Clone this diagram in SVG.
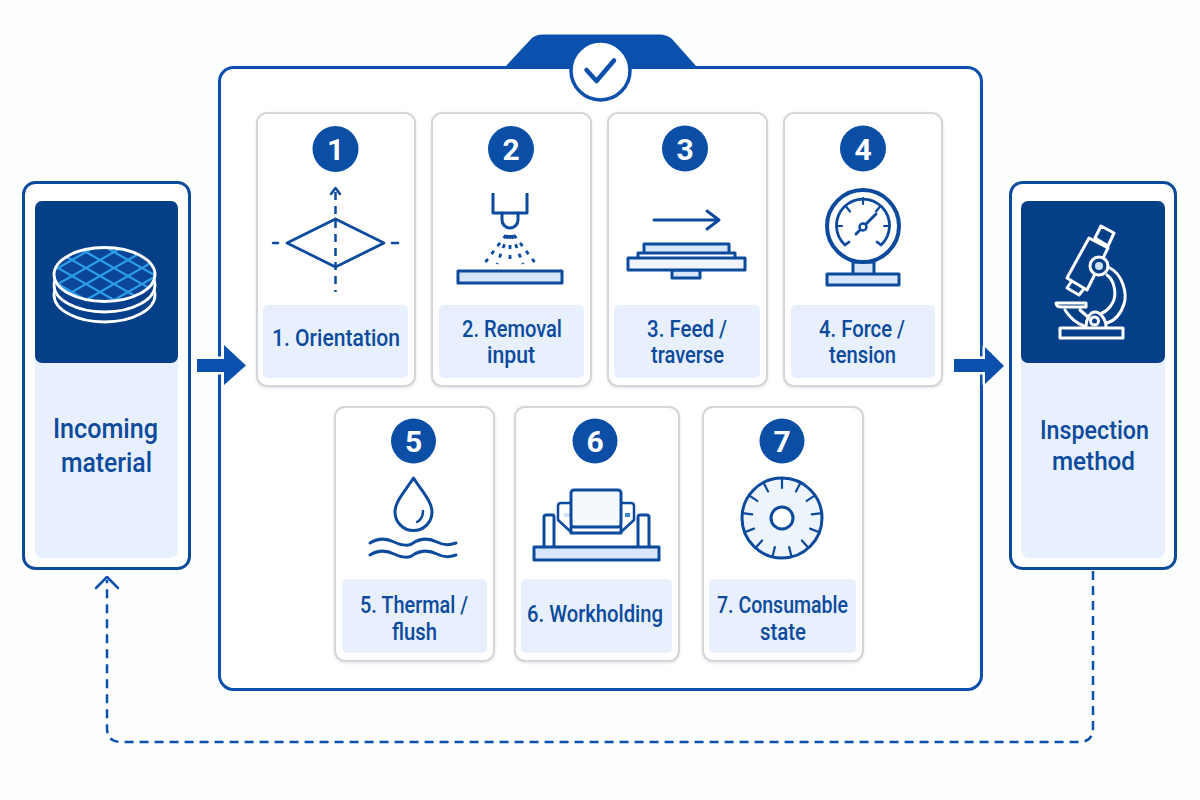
<svg xmlns="http://www.w3.org/2000/svg" width="1200" height="800" viewBox="0 0 1200 800">
<style>
.bg{fill:#fdfefe}
.card{fill:#fff;stroke:#d3d6da;stroke-width:2}
.lab{fill:#e7f0fc}
.badge{fill:#0a4ea6}
.num{font-family:"Roboto","Liberation Sans",sans-serif;font-weight:700;font-size:30px;fill:#fff;text-anchor:middle}
.t{font-family:"Roboto","Liberation Sans",sans-serif;font-weight:500;font-size:23.5px;fill:#0b4a9c}
.tb{font-family:"Roboto","Liberation Sans",sans-serif;font-weight:500;font-size:28px;fill:#0b4a9c}
.ic{fill:none;stroke:#0b4a9c;stroke-width:3;stroke-linecap:round;stroke-linejoin:round}
.if{fill:#d7e6f8;stroke:#0b4a9c;stroke-width:3;stroke-linejoin:round}
.w{fill:none;stroke:#fff;stroke-width:3;stroke-linecap:round;stroke-linejoin:round}
.arrow{fill:#0a50ac;stroke:#fdfefe;stroke-width:5;paint-order:stroke;stroke-linejoin:round}
.outer{fill:#fff;stroke:#0b4a9c;stroke-width:3}
</style>
<defs>
<pattern id="grid" patternUnits="userSpaceOnUse" x="2" y="268" width="28" height="16"><path d="M0 0L28 16M0 16L28 0" stroke="#2c9ee8" stroke-width="2.200" fill="none"/></pattern>
<filter id="sh" x="-5%" y="-5%" width="110%" height="110%"><feDropShadow dx="0" dy="1" stdDeviation="1.5" flood-color="#9aa4b0" flood-opacity=".3"/></filter>
</defs>
<rect class="bg" width="1200" height="800"/>

<g id="frame">
<rect x="219.500" y="67.500" width="762" height="622" rx="14" fill="#fff" stroke="#0a50ac" stroke-width="3"/>
<path d="M506 66L531 39Q535 34.500 543 34.500H659Q667 34.500 672 39L696 66Z" fill="#0a50ac"/>
<circle cx="600.500" cy="70.500" r="29.500" fill="#fff" stroke="#0a50ac" stroke-width="3.500"/>
<path d="M586.500 70L596.500 81L614 60.500" fill="none" stroke="#0a50ac" stroke-width="4.500" stroke-linecap="round" stroke-linejoin="round"/>
</g>

<g id="incoming">
<rect class="outer" x="23.500" y="182.500" width="166" height="386" rx="12"/>
<rect class="lab" x="35" y="350" width="143" height="208" rx="8"/>
<rect x="35" y="201" width="143" height="162" rx="7" fill="#053f88"/>
<ellipse cx="104.500" cy="295" rx="50.500" ry="27" fill="#063f8c" stroke="#fff" stroke-width="2.800"/>
<ellipse cx="104.500" cy="285" rx="50.500" ry="27" fill="#063f8c" stroke="#fff" stroke-width="2.800"/>
<ellipse cx="104.500" cy="274.500" rx="50.500" ry="27" fill="#0a4598"/>
<ellipse cx="104.500" cy="274.500" rx="50.500" ry="27" fill="url(#grid)" stroke="#fff" stroke-width="2.800"/>
<text class="tb" x="105.500" y="438" text-anchor="middle" textLength="105" lengthAdjust="spacingAndGlyphs">Incoming</text>
<text class="tb" x="106.500" y="472" text-anchor="middle" textLength="91" lengthAdjust="spacingAndGlyphs">material</text>
</g>

<g id="inspection">
<rect class="outer" x="1010.500" y="182.500" width="165" height="386" rx="12"/>
<rect class="lab" x="1021" y="350" width="144" height="208" rx="8"/>
<rect x="1021" y="201" width="144" height="162" rx="7" fill="#053f88"/>
<path class="w" d="M1101 226L1114 233L1108 246L1095 238ZM1089 238L1108 248L1087 290L1067 278ZM1071 282L1067 288L1079 295L1083 290"/>
<circle cx="1099" cy="266" r="9" fill="#053f88" stroke="#fff" stroke-width="3"/>
<circle cx="1099" cy="266" r="4" fill="#cfe0f5"/>
<path class="w" d="M1108 267C1124 274 1127 295 1124 304C1120 316 1114 321 1107 323M1107 275C1116 282 1116 296 1113 302C1110 308 1107 311 1102 313M1056 303H1086V307H1062Q1056 307 1056 303ZM1065 310C1070 318 1076 323 1084 326M1080 310L1088 317"/>
<path d="M1086 327C1086 319 1090 312 1095 312C1100 312 1106 319 1106 327" fill="#053f88" stroke="#fff" stroke-width="3" stroke-linecap="round"/>
<circle class="w" cx="1094.500" cy="321" r="4"/>
<rect class="w" x="1060" y="328" width="63" height="10"/>
<text class="tb" x="1094.500" y="439" text-anchor="middle" style="font-size:26px" textLength="109" lengthAdjust="spacingAndGlyphs">Inspection</text>
<text class="tb" x="1093.500" y="470" text-anchor="middle" style="font-size:26px" textLength="83" lengthAdjust="spacingAndGlyphs">method</text>
</g>

<g id="step1">
<rect class="card" x="257" y="113" width="158" height="273" rx="10" filter="url(#sh)"/>
<rect class="lab" x="263" y="305" width="145" height="73" rx="5"/>
<circle class="badge" cx="335.500" cy="149" r="23"/>
<text class="num" x="335.500" y="160">1</text>
<path class="ic" d="M287 243L335.500 219L384 243L335.500 267Z" style="stroke-width:2.800"/>
<path class="ic" style="stroke-linecap:butt;stroke-width:2.500" stroke-dasharray="8 6" d="M335.500 192V292"/>
<path class="ic" style="stroke-width:2.500" d="M331 194L335.500 188L340 194M273 243H278M392 243H398"/>
<text class="t" x="272" y="346" textLength="128" lengthAdjust="spacingAndGlyphs">1. Orientation</text>
</g>

<g id="step2">
<rect class="card" x="432" y="113" width="159" height="273" rx="10" filter="url(#sh)"/>
<rect class="lab" x="439" y="305" width="145" height="73" rx="5"/>
<circle class="badge" cx="511" cy="149" r="23"/>
<text class="num" x="511" y="160">2</text>
<path class="ic" style="stroke-linecap:butt" d="M493 193V213H527V193"/>
<path class="ic" d="M502 213V220A8 8 0 0 0 518 220V213"/>
<path class="ic" style="stroke-linecap:butt;stroke-width:2.800" stroke-dasharray="4 6" d="M506 235L484 264M508 235L497 264M510 235V264M512 235L523 264M514 235L536 264"/>
<rect class="if" x="458" y="271" width="104" height="12"/>
<text class="t" x="462" y="337" textLength="100" lengthAdjust="spacingAndGlyphs">2. Removal</text>
<text class="t" x="487" y="363" textLength="48" lengthAdjust="spacingAndGlyphs">input</text>
</g>

<g id="step3">
<rect class="card" x="608" y="113" width="159" height="273" rx="10" filter="url(#sh)"/>
<rect class="lab" x="614" y="305" width="146" height="73" rx="5"/>
<circle class="badge" cx="685" cy="148.500" r="23"/>
<text class="num" x="685" y="159.500">3</text>
<path class="ic" d="M654 220H718M707 211L719 220L707 229"/>
<rect class="if" x="672" y="270" width="28" height="8"/>
<rect class="if" x="644" y="244" width="85" height="10"/>
<rect class="if" x="638" y="253" width="97" height="6" style="fill:#fff"/>
<rect class="if" x="628" y="258" width="117" height="12" style="fill:#f2f6fc"/>
<text class="t" x="647" y="337" textLength="80" lengthAdjust="spacingAndGlyphs">3. Feed /</text>
<text class="t" x="651" y="363" textLength="73" lengthAdjust="spacingAndGlyphs">traverse</text>
</g>

<g id="step4">
<rect class="card" x="784" y="113" width="158" height="273" rx="10" filter="url(#sh)"/>
<rect class="lab" x="791" y="305" width="144" height="73" rx="5"/>
<circle class="badge" cx="863" cy="148.500" r="23"/>
<text class="num" x="863" y="159.500">4</text>
<rect class="if" x="853" y="262" width="21" height="13"/>
<rect class="if" x="827" y="274" width="72" height="11"/>
<circle cx="863" cy="226" r="36" fill="#fff" stroke="#0b4a9c" stroke-width="4"/>
<path class="ic" d="M845 245A26.500 26.500 0 1 1 881 245L877 242M845 245L849 242" style="stroke-width:2.800"/>
<path class="ic" style="stroke-width:2.200" d="M863 198V204M846 206.500L850 211.500M880 206.500L876 211.500M836 226H842M884 226H890"/>
<path class="ic" d="M856 234L860.500 229.500M866 224L876 214"/>
<circle cx="863" cy="227" r="3.500" fill="#fff" stroke="#0b4a9c" stroke-width="2.500"/>
<text class="t" x="819" y="337" textLength="86" lengthAdjust="spacingAndGlyphs">4. Force /</text>
<text class="t" x="829" y="363" textLength="67" lengthAdjust="spacingAndGlyphs">tension</text>
</g>

<g id="step5">
<rect class="card" x="335" y="407" width="159" height="254" rx="10" filter="url(#sh)"/>
<rect class="lab" x="342" y="579" width="145" height="74" rx="5"/>
<circle class="badge" cx="413.500" cy="441" r="22.500"/>
<text class="num" x="413.500" y="452">5</text>
<path class="ic" d="M413.500 478C406 490 395 501 395 512A18.500 18.500 0 0 0 432 512C432 501 421 490 413.500 478Z"/>
<path class="ic" d="M417 522C421 520 423 516 423 511" style="stroke-width:2.500"/>
<path class="ic" d="M370 543C378 538 386 538 394 542C402 546 410 546 413 543C421 538 429 538 437 542C445 546 450 545 456 543"/>
<path class="ic" d="M370 555C378 550 386 550 394 554C402 558 410 558 413 555C421 550 429 550 437 554C445 558 450 557 456 555"/>
<text class="t" x="360" y="613" textLength="108" lengthAdjust="spacingAndGlyphs">5. Thermal /</text>
<text class="t" x="392" y="640" textLength="45" lengthAdjust="spacingAndGlyphs">flush</text>
</g>

<g id="step6">
<rect class="card" x="515" y="407" width="164" height="254" rx="10" filter="url(#sh)"/>
<rect class="lab" x="521" y="579" width="151" height="74" rx="5"/>
<circle class="badge" cx="595" cy="441" r="22.500"/>
<text class="num" x="595" y="452">6</text>
<path class="ic" d="M544 546V517Q544 515 546 515H553Q554 515 554 517V546M649 546V517Q649 515 647 515H640Q638 515 638 517V546"/>
<path class="ic" d="M571 503H561Q558 503 558 506V520L571 532M621 503H631Q634 503 634 506V520L621 532" style="stroke-width:2.500"/>
<rect x="564" y="513" width="6" height="4" fill="#cfe0f5"/>
<rect x="625" y="513" width="5" height="4" fill="#3f83cc"/>
<path class="ic" d="M571 527V533H621V527"/>
<rect class="ic" x="571" y="490" width="50" height="37" rx="3" style="fill:#f5f9fe"/>
<rect class="if" x="534" y="547" width="125" height="13"/>
<text class="t" x="527" y="622" textLength="136" lengthAdjust="spacingAndGlyphs">6. Workholding</text>
</g>

<g id="step7">
<rect class="card" x="703" y="407" width="160" height="254" rx="10" filter="url(#sh)"/>
<rect class="lab" x="709" y="579" width="147" height="74" rx="5"/>
<circle class="badge" cx="782" cy="441" r="22.500"/>
<text class="num" x="782" y="452">7</text>
<circle cx="782" cy="518" r="40" fill="#eef4fc" stroke="#0b4a9c" stroke-width="3"/>
<circle cx="782" cy="518" r="11" fill="#fff" stroke="#0b4a9c" stroke-width="3"/>
<g class="ic" style="stroke-width:2.200">
<path d="M782 478V488" transform="rotate(0 782 518)"/>
<path d="M782 478V488" transform="rotate(27.700 782 518)"/>
<path d="M782 478V488" transform="rotate(55.400 782 518)"/>
<path d="M782 478V488" transform="rotate(83.100 782 518)"/>
<path d="M782 478V488" transform="rotate(110.800 782 518)"/>
<path d="M782 478V488" transform="rotate(138.500 782 518)"/>
<path d="M782 478V488" transform="rotate(166.200 782 518)"/>
<path d="M782 478V488" transform="rotate(193.800 782 518)"/>
<path d="M782 478V488" transform="rotate(221.500 782 518)"/>
<path d="M782 478V488" transform="rotate(249.200 782 518)"/>
<path d="M782 478V488" transform="rotate(276.900 782 518)"/>
<path d="M782 478V488" transform="rotate(304.600 782 518)"/>
<path d="M782 478V488" transform="rotate(332.300 782 518)"/>
</g>
<text class="t" x="717" y="613" textLength="131" lengthAdjust="spacingAndGlyphs">7. Consumable</text>
<text class="t" x="760" y="640" textLength="46" lengthAdjust="spacingAndGlyphs">state</text>
</g>

<g id="connectors">
<path id="arrow-in" class="arrow" d="M197 359H224V345L246 365.500L224 385V372H197Z"/>
<path id="arrow-out" class="arrow" d="M954 359H985V347L1004 366L985 384V372H954Z"/>
<path id="return" d="M1093 571V728Q1093 742 1079 742H121Q107 742 107 728V580" fill="none" stroke="#0a50ac" stroke-width="2.500" stroke-dasharray="9 6"/>
<path id="return-head" d="M96 588L107 577L118 588" fill="none" stroke="#0a50ac" stroke-width="2.500" stroke-linecap="round" stroke-linejoin="round"/>
</g>
</svg>
